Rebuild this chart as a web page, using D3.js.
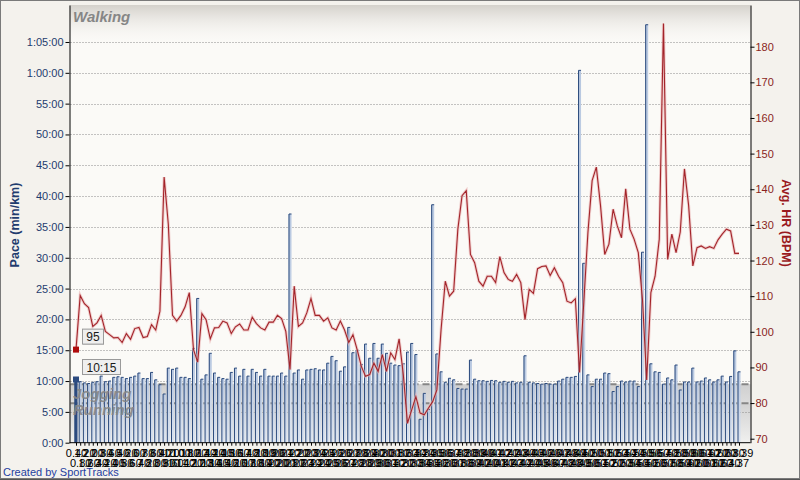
<!DOCTYPE html>
<html><head><meta charset="utf-8">
<script src="https://cdn.jsdelivr.net/npm/d3@7"></script>
<style>
html,body{margin:0;padding:0;background:#f4f2ed;}
svg{display:block;font-family:"Liberation Sans",Arial,sans-serif;}
</style></head><body>
<svg id="chart" width="800" height="480"></svg>
<script>
// ---- data ----
const paceMin = [10.25,9.9,9.7,9.6,9.8,9.9,10.8,9.9,10.0,10.6,
10.7,10.6,10.4,10.6,10.8,11.3,10.4,10.4,11.4,10.2,
9.4,7.9,12.1,11.9,12.1,10.6,10.6,10.4,15.3,23.4,
10.3,11.0,14.5,11.3,10.6,10.4,10.3,11.4,12.1,10.8,
11.9,10.8,11.9,11.4,10.8,11.9,10.8,10.8,10.8,11.3,
10.8,37.1,11.3,11.8,10.3,11.8,11.9,12.0,11.8,11.8,
12.9,14.0,13.3,11.6,12.3,18.7,14.6,15.0,12.7,16.0,
13.7,16.1,13.7,16.0,14.5,12.9,12.6,12.5,12.8,14.7,
16.1,14.3,3.8,8.0,5.4,38.6,14.4,11.5,9.8,10.45,
10.2,8.8,8.7,8.7,13.4,10.3,10.05,10.05,9.95,10.1,
10.05,9.8,9.95,9.8,9.95,9.7,9.8,14.1,9.8,9.7,
9.6,9.5,9.6,9.5,9.5,10.0,10.3,10.6,10.6,10.75,
60.4,29.1,11.0,9.1,10.3,10.3,11.3,11.2,8.3,9.1,
10.0,9.85,10.0,10.0,9.1,30.9,67.8,12.8,11.5,11.4,
9.5,10.5,10.2,12.6,8.55,9.85,9.85,12.1,9.85,10.0,
10.5,10.2,9.85,10.2,10.8,9.85,10.75,14.9,11.5];

const avgHR = [95,110.2,107.9,106.8,101.5,102.5,104.6,100.1,99.2,98.3,
98.4,97.0,99.5,97.9,100.9,101.2,98.4,98.7,102.0,100.5,
105.8,143.4,130.2,104.6,103.0,104.6,107.0,111.0,95.0,91.5,
105.1,103.4,98.0,101.1,101.2,103.0,102.5,99.5,101.4,102.2,
100.5,100.5,104.1,102.3,101.1,100.5,102.7,102.7,104.6,103.7,
100.1,89.4,112.8,101.5,102.5,105.3,109.3,104.6,104.6,103.0,
103.9,101.1,100.5,103.0,100.5,97.0,99.2,95.0,90.3,87.5,
88.0,91.2,88.9,93.6,88.9,94.1,92.2,98.0,88.0,74.3,
78.1,81.8,77.2,76.7,78.6,80.4,83.7,100.6,114.2,110.0,
111.4,128.8,138.2,139.6,121.7,119.4,114.2,112.8,115.6,115.6,
113.8,121.1,116.6,114.7,114.2,116.1,113.8,103.4,111.9,110.8,
117.7,118.3,118.5,115.8,118.0,115.6,113.8,108.6,108.1,109.3,
88.6,108.0,127.9,142.4,146.2,135.4,121.7,124.6,134.4,129.7,
126.4,140.1,128.8,126.0,122.2,109.0,86.5,111.0,115.6,126.0,
186.5,120.3,127.4,122.2,128.0,145.7,135.4,118.5,123.6,124.1,
123.4,123.9,123.4,125.8,127.4,128.8,128.3,122.0,122.0];

const lapLabels = ["0.40","0.80","1.20","1.60","2.00","2.40","2.80","3.20","3.60","4.00",
"4.40","4.80","5.20","5.60","6.00","6.40","6.80","7.20","7.60","8.00",
"8.40","8.80","9.20","9.60","10.00","10.40","10.80","11.20","11.60","12.00",
"12.40","12.80","13.20","13.60","14.00","14.40","14.80","15.20","15.60","16.00",
"16.40","16.80","17.20","17.60","18.00","18.40","18.80","19.20","19.60","20.00",
"20.40","20.80","21.20","21.60","22.00","22.40","22.80","23.20","23.60","24.00",
"24.40","24.80","25.20","25.60","26.00","26.40","26.80","27.20","27.60","28.00",
"28.40","28.80","29.20","29.60","30.00","30.40","30.80","31.20","31.60","32.00",
"32.40","32.80","33.20","33.60","34.00","34.40","34.80","35.20","35.60","36.00",
"36.40","36.80","37.20","37.60","38.00","38.40","38.80","39.20","39.60","40.00",
"40.40","40.80","41.20","41.60","42.00","42.40","42.80","43.20","43.60","44.00",
"44.40","44.80","45.20","45.60","46.00","46.40","46.80","47.20","47.60","48.00",
"48.40","48.80","49.20","49.60","50.00","50.40","50.80","51.20","51.60","52.00",
"52.40","52.80","53.20","53.60","54.00","54.40","54.80","55.20","55.60","56.00",
"56.40","56.80","57.20","57.60","58.00","58.40","58.80","59.20","59.60","60.00",
"60.40","60.80","61.20","61.60","62.00","62.40","62.80","63.37","63.39"];

const paceTicks = [0,5,10,15,20,25,30,35,40,45,50,55,60,65];
const paceTickLabels = ["0:00","5:00","10:00","15:00","20:00","25:00","30:00","35:00","40:00","45:00","50:00","55:00","1:00:00","1:05:00"];
const hrTicks = [70,80,90,100,110,120,130,140,150,160,170,180];
const zoneNames = ["Walking","Jogging","Running"];
const zoneBounds = [9.5, 6.4];
const paceDomain = [0, 71];
const hrDomain = [68.88, 191.7];

// ---- layout ----
const svg = d3.select("#chart");
const L = 69.5, R = 750.5, T = 5, B = 442.7;
const x = d3.scalePoint().domain(d3.range(paceMin.length)).range([76, 739]);
const yP = d3.scaleLinear().domain(paceDomain).range([B, T]);
const yH = d3.scaleLinear().domain(hrDomain).range([B, T]);

const defs = svg.append("defs");
function grad(id, stops, vertical=true){
  const g = defs.append("linearGradient").attr("id", id)
    .attr("x1",0).attr("y1",0).attr("x2", vertical?0:1).attr("y2", vertical?1:0);
  stops.forEach(s => g.append("stop").attr("offset", s[0]).attr("stop-color", s[1]).attr("stop-opacity", s[2]==null?1:s[2]));
}
grad("walkG", [[0,"#d4d1cb"],[1,"#faf8f5",0]]);
grad("jogG", [[0,"#cfcfcf"],[1,"#dcdcdc"]]);
grad("runG", [[0,"#d2d2d2"],[1,"#f0f0ef"]]);
grad("barG", [[0,"#b7c7e0"],[1,"#dae3f0"]]);

svg.append("rect").attr("width",800).attr("height",480).attr("fill","#f4f2ed");
svg.append("rect").attr("x",L).attr("y",T).attr("width",R-L).attr("height",B-T).attr("fill","#fbfaf7");

// zones
svg.append("rect").attr("x",L).attr("y",T).attr("width",R-L).attr("height",40).attr("fill","url(#walkG)");
svg.append("rect").attr("x",L).attr("y",yP(zoneBounds[0])).attr("width",R-L)
  .attr("height",yP(zoneBounds[1])-yP(zoneBounds[0])).attr("fill","url(#jogG)");
svg.append("rect").attr("x",L).attr("y",yP(zoneBounds[1])).attr("width",R-L)
  .attr("height",B-yP(zoneBounds[1])).attr("fill","url(#runG)");

// grid
svg.append("g").selectAll("line").data(paceTicks.filter(d=>d>0)).join("line")
  .attr("x1",L+1).attr("x2",R).attr("y1",d=>Math.round(yP(d))+0.5).attr("y2",d=>Math.round(yP(d))+0.5)
  .attr("stroke","#8a8a8a").attr("stroke-dasharray","1,2");

svg.append("g").selectAll("line").data(zoneBounds).join("line")
  .attr("x1",L+1).attr("x2",R).attr("y1",d=>yP(d)).attr("y2",d=>yP(d))
  .attr("stroke","#868686").attr("stroke-width",2).attr("stroke-dasharray","7,4");

// bars
const bars = svg.append("g");
bars.selectAll("rect").data(paceMin).join("rect")
  .attr("x",(d,i)=>x(i)-1.5).attr("y",d=>yP(d)).attr("width",3).attr("height",d=>B-yP(d))
  .attr("fill",(d,i)=> i===0 ? "#2c4b80" : "url(#barG)");
bars.selectAll("path").data(paceMin).join("path")
  .attr("d",(d,i)=>`M${x(i)-1},${B}V${yP(d)}H${x(i)+1.5}`)
  .attr("fill","none").attr("stroke","#2b4a7c").attr("stroke-width",1);

// zone labels
const zl = svg.append("g").attr("font-weight","bold").attr("font-style","italic").attr("font-size",15).attr("fill","#868686");
zl.append("text").attr("x",73).attr("y",22).text(zoneNames[0]);
zl.append("text").attr("x",73).attr("y",398.5).attr("opacity",0.9).text(zoneNames[1]);
zl.append("text").attr("x",73).attr("y",414.5).attr("opacity",0.9).text(zoneNames[2]);

// HR line
const line = d3.line().x((d,i)=>x(i)).y(d=>yH(d));
svg.append("path").datum(avgHR).attr("d",line).attr("fill","none").attr("stroke","#eab3b3").attr("stroke-width",3).attr("opacity",0.6);
svg.append("path").datum(avgHR).attr("d",line).attr("fill","none").attr("stroke","#a3242a").attr("stroke-width",1.1);

// axes
const ax1 = svg.append("g").attr("transform",`translate(${L},0)`)
  .call(d3.axisLeft(yP).tickValues(paceTicks).tickFormat((d,i)=>paceTickLabels[i]).tickSize(4).tickSizeOuter(0).tickPadding(2));
ax1.selectAll("text").attr("fill","#1f3c6e").attr("font-size",11).attr("font-family","Liberation Sans, Arial, sans-serif");
ax1.selectAll("line,path").attr("stroke","#000");

const ax2 = svg.append("g").attr("transform",`translate(${R},0)`)
  .call(d3.axisRight(yH).tickValues(hrTicks).tickSize(4).tickSizeOuter(0).tickPadding(1));
ax2.selectAll("text").attr("fill","#8a1f22").attr("font-size",11).attr("font-family","Liberation Sans, Arial, sans-serif");
ax2.selectAll("line,path").attr("stroke","#000");

const ax3 = svg.append("g").attr("transform",`translate(0,${B})`)
  .call(d3.axisBottom(x).tickFormat(i=>lapLabels[i]).tickSize(3).tickPadding(2));
ax3.select(".domain").remove();
ax3.selectAll("line").attr("stroke","#000");
ax3.selectAll("text").attr("fill","#000").attr("font-size",11).attr("font-family","Liberation Sans, Arial, sans-serif")
  .attr("dy",null).attr("y",(d,i)=> i%2===0 ? 14 : 24);
svg.append("line").attr("x1",L).attr("x2",R).attr("y1",B).attr("y2",B).attr("stroke","#000");

// markers + value boxes
function fmtPace(v){const m=Math.floor(v), s=Math.round((v-m)*60); return m+":"+String(s).padStart(2,"0");}
const mx = x(0);
svg.append("rect").attr("x",mx-3).attr("y",yH(avgHR[0])-3).attr("width",6).attr("height",6).attr("fill","#b00d0d");
svg.append("rect").attr("x",mx-3).attr("y",yP(paceMin[0])-3).attr("width",6).attr("height",6).attr("fill","#2c4b80");
function box(x0, y0, w, txt){
  svg.append("rect").attr("x",x0+1).attr("y",y0+1).attr("width",w).attr("height",15).attr("fill","#bdbdbd");
  svg.append("rect").attr("x",x0+0.5).attr("y",y0+0.5).attr("width",w).attr("height",15).attr("fill","#efefef").attr("stroke","#9a9a9a");
  svg.append("text").attr("x",x0+w/2+0.5).attr("y",y0+12.5).attr("text-anchor","middle").attr("font-size",12).attr("fill","#1a1a1a").text(txt);
}
box(82, yH(avgHR[0])-21, 21, String(avgHR[0]));
box(82, yP(paceMin[0])-20.5, 38, fmtPace(paceMin[0]));

// titles
svg.append("text").attr("transform",`translate(19,225) rotate(-90)`).attr("text-anchor","middle")
  .attr("font-weight","bold").attr("font-size",12.5).attr("fill","#1f3c6e").text("Pace (min/km)");
svg.append("text").attr("transform",`translate(782,223) rotate(90)`).attr("text-anchor","middle")
  .attr("font-weight","bold").attr("font-size",12.5).attr("fill","#9a1a1e").text("Avg. HR (BPM)");

svg.append("text").attr("x",3).attr("y",475.5).attr("font-size",11).attr("fill","#1f3fa0").text("Created by SportTracks");

// border
svg.append("rect").attr("x",0.5).attr("y",0.5).attr("width",799).attr("height",478).attr("fill","none").attr("stroke","#7a7a7a");
svg.append("line").attr("x1",0).attr("x2",800).attr("y1",479.5).attr("y2",479.5).attr("stroke","#555");
</script>
</body></html>
